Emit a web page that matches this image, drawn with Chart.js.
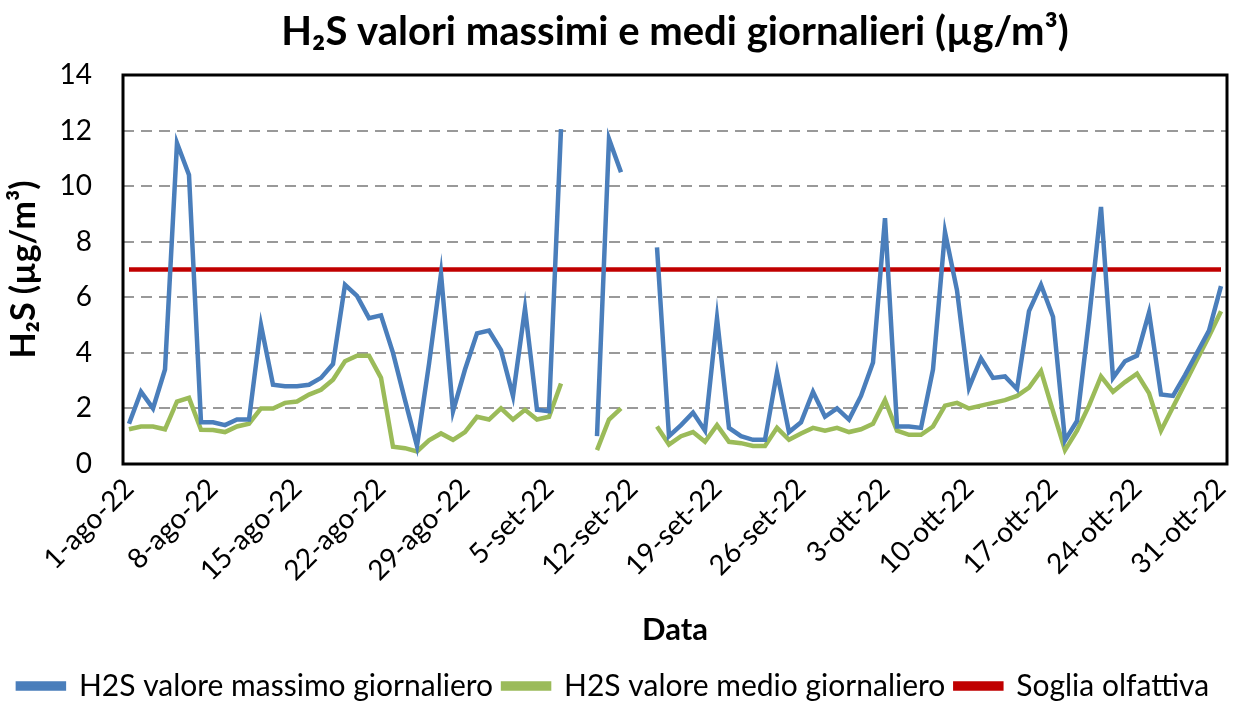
<!DOCTYPE html>
<html><head><meta charset="utf-8">
<script src="https://cdn.jsdelivr.net/npm/chart.js@4"></script>
<style>html,body{margin:0;padding:0;background:#fff}#wrap{width:1234px;height:711px;position:relative}</style>
</head><body><div id="wrap"><canvas id="c"></canvas></div>
<script>
const categories = [
 '1-ago-22','2-ago-22','3-ago-22','4-ago-22','5-ago-22','6-ago-22','7-ago-22','8-ago-22','9-ago-22','10-ago-22',
 '11-ago-22','12-ago-22','13-ago-22','14-ago-22','15-ago-22','16-ago-22','17-ago-22','18-ago-22','19-ago-22','20-ago-22',
 '21-ago-22','22-ago-22','23-ago-22','24-ago-22','25-ago-22','26-ago-22','27-ago-22','28-ago-22','29-ago-22','30-ago-22','31-ago-22',
 '1-set-22','2-set-22','3-set-22','4-set-22','5-set-22','6-set-22','7-set-22','8-set-22','9-set-22','10-set-22',
 '11-set-22','12-set-22','13-set-22','14-set-22','15-set-22','16-set-22','17-set-22','18-set-22','19-set-22','20-set-22',
 '21-set-22','22-set-22','23-set-22','24-set-22','25-set-22','26-set-22','27-set-22','28-set-22','29-set-22','30-set-22',
 '1-ott-22','2-ott-22','3-ott-22','4-ott-22','5-ott-22','6-ott-22','7-ott-22','8-ott-22','9-ott-22','10-ott-22',
 '11-ott-22','12-ott-22','13-ott-22','14-ott-22','15-ott-22','16-ott-22','17-ott-22','18-ott-22','19-ott-22','20-ott-22',
 '21-ott-22','22-ott-22','23-ott-22','24-ott-22','25-ott-22','26-ott-22','27-ott-22','28-ott-22','29-ott-22','30-ott-22','31-ott-22'
];
const tickLabels = ['1-ago-22','8-ago-22','15-ago-22','22-ago-22','29-ago-22','5-set-22','12-set-22',
 '19-set-22','26-set-22','3-ott-22','10-ott-22','17-ott-22','24-ott-22','31-ott-22'];
const maxValues = [
 1.45,2.6,2.0,3.4,11.55,10.4,1.5,1.5,1.4,1.6,
 1.6,5.0,2.85,2.8,2.8,2.85,3.1,3.6,6.45,6.05,
 5.25,5.35,4.0,2.3,0.65,3.6,6.85,1.9,3.4,4.7,4.8,
 4.1,2.45,5.6,1.95,1.9,12.05,null,null,1.0,11.7,
 10.5,null,null,7.8,1.0,1.4,1.85,1.2,5.25,1.3,
 1.0,0.87,0.87,3.3,1.15,1.5,2.6,1.7,2.0,1.6,
 2.45,3.65,8.85,1.35,1.35,1.3,3.4,8.35,6.25,2.75,
 3.8,3.1,3.15,2.7,5.5,6.45,5.3,0.85,1.55,5.2,
 9.25,3.1,3.7,3.9,5.45,2.5,2.45,3.2,4.0,4.8,6.4
];
const meanValues = [
 1.25,1.35,1.35,1.25,2.25,2.38,1.23,1.22,1.15,1.35,
 1.45,2.0,2.0,2.2,2.25,2.5,2.67,3.03,3.7,3.9,
 3.9,3.1,0.62,0.57,0.45,0.85,1.1,0.87,1.15,1.7,1.6,
 2.0,1.6,1.95,1.6,1.7,2.9,null,null,0.5,1.6,
 2.0,null,null,1.35,0.7,1.0,1.15,0.8,1.4,0.8,
 0.75,0.65,0.65,1.3,0.87,1.1,1.3,1.2,1.3,1.15,
 1.25,1.45,2.3,1.2,1.05,1.05,1.35,2.1,2.2,2.0,
 2.1,2.2,2.3,2.45,2.75,3.35,1.9,0.5,1.2,2.1,
 3.15,2.6,2.95,3.25,2.55,1.2,2.05,2.9,3.75,4.6,5.5
];
const threshold = 7;
const thresholdValues = categories.map(() => threshold);
const yTicks = [0,2,4,6,8,10,12,14];

const FONT = 'Lato, "Open Sans", sans-serif';
const tickSet = new Set(tickLabels);

const boxPlugin = {
  id:'box',
  beforeDatasetsDraw(chart){
    const a = chart.chartArea, ctx = chart.ctx;
    ctx.save();
    ctx.strokeStyle = '#000';
    ctx.lineWidth = 3;
    ctx.strokeRect(a.left, a.top, a.right - a.left, a.bottom - a.top);
    ctx.restore();
  }
};

new Chart(document.getElementById('c'), {
  type:'line',
  data:{
    labels:categories,
    datasets:[
      {label:'H2S valore massimo giornaliero', data:maxValues, borderColor:'#4A7EBB', backgroundColor:'#4A7EBB', borderWidth:4.5, pointRadius:0, spanGaps:false, tension:0},
      {label:'H2S valore medio giornaliero', data:meanValues, borderColor:'#9BBB59', backgroundColor:'#9BBB59', borderWidth:4.5, pointRadius:0, spanGaps:false, tension:0},
      {label:'Soglia olfattiva', data:thresholdValues, borderColor:'#C00000', backgroundColor:'#C00000', borderWidth:4.5, pointRadius:0, tension:0}
    ]
  },
  options:{
    responsive:true, maintainAspectRatio:false, animation:false,
    layout:{padding:{left:0,right:7,top:0,bottom:0}},
    plugins:{
      title:{display:true, fullSize:false, text:'H₂S valori massimi e medi giornalieri (µg/m³)', color:'#000',
        font:{family:FONT,size:40,weight:'bold'}, padding:{top:8,bottom:19}},
      legend:{position:'bottom', labels:{boxWidth:46, boxHeight:5, color:'#000', padding:10,
        font:{family:FONT,size:30}}},
      tooltip:{enabled:false}
    },
    scales:{
      x:{
        offset:true,
        grid:{display:false, drawTicks:false, offset:true}, border:{display:false},
        ticks:{autoSkip:false, minRotation:45, maxRotation:45, color:'#000', padding:8,
          font:{family:FONT,size:28},
          callback(v,i){ return tickSet.has(categories[i]) ? categories[i] : null; }},
        title:{display:true, text:'Data', color:'#000', font:{family:FONT,size:31,weight:'bold'}, padding:{top:8,bottom:12}},
        afterFit(s){ s.height = 197; s.paddingRight = 0; s.paddingLeft = 0; }
      },
      y:{
        min:0, max:14,
        afterBuildTicks(s){ s.ticks = yTicks.map(v => ({value:v})); },
        ticks:{color:'#000', padding:31, font:{family:FONT,size:28}},
        grid:{color:'#999', lineWidth:2, drawTicks:false},
        border:{display:false, dash:[11,7]},
        title:{display:true, text:'H₂S (µg/m³)', color:'#000', font:{family:FONT,size:34,weight:'bold'}, padding:{top:4,bottom:4}},
        afterFit(s){ s.width = 123; }
      }
    }
  },
  plugins:[boxPlugin]
});
</script></body></html>
